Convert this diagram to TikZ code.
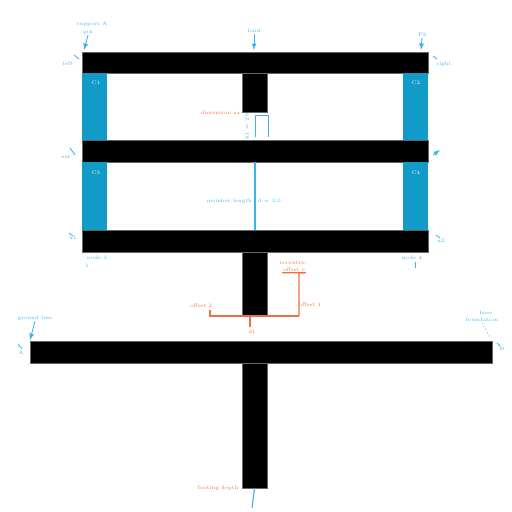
\documentclass[tikz,border=0pt]{standalone}
\usepackage{xcolor}
\definecolor{colblue}{RGB}{18,155,200}
\definecolor{lblblue}{RGB}{60,180,235}
\definecolor{lblorange}{RGB}{240,110,70}
\tikzset{
	member/.style={shape=rectangle, draw=black!60, line width=0.3pt, fill=black, inner sep=0pt},
	post/.style={shape=rectangle, fill=colblue, inner sep=0pt, text=white, anchor=center},
	tag/.style={text=lblblue, inner sep=0.5pt, font=\fontsize{3.6}{4}\selectfont},
	otag/.style={text=lblorange, inner sep=0.5pt, font=\fontsize{3.6}{4}\selectfont},
	dim/.style={draw=lblblue, line width=0.6pt},
	odim/.style={draw=lblorange, line width=0.9pt}
}
\begin{document}
\begin{tikzpicture}[x=0.025cm, y=-0.025cm]
	\useasboundingbox (0, 0) rectangle (512, 512);
	\node[member, minimum width=8.65cm, minimum height=0.525cm](B1) at (255, 62.5){};
	\node[member, minimum width=0.625cm, minimum height=0.975cm](S1) at (254.5, 92.5){};
	\node[post, minimum width=0.625cm, minimum height=1.675cm](L1) at (94.5, 106.5){};
	\node[post, minimum width=0.625cm, minimum height=1.675cm](R1) at (415, 106.5){};
	\node[member, minimum width=8.65cm, minimum height=0.55cm](B2) at (255, 151){};
	\node[post, minimum width=0.625cm, minimum height=1.7cm](L2) at (94.5, 196){};
	\node[post, minimum width=0.625cm, minimum height=1.7cm](R2) at (415, 196){};
	\node[member, minimum width=8.65cm, minimum height=0.55cm](B3) at (255, 241){};
	\node[member, minimum width=0.625cm, minimum height=1.575cm](S2) at (254.5, 283.5){};
	\node[member, minimum width=11.55cm, minimum height=0.55cm](B4) at (261, 352){};
	\node[member, minimum width=0.625cm, minimum height=3.125cm](S3) at (254.5, 425.5){};
	\node[tag, text=white] at (96, 83){C1};
	\node[tag, text=white] at (416, 83){C2};
	\node[tag, text=white] at (96, 173){C3};
	\node[tag, text=white] at (416, 173){C4};
	\node[tag](t1) at (92, 24){support A};
	\node[tag](t2) at (88, 32){pin};
	\draw[dim, -latex] (t2.south) -- (84, 50);
	\node[tag](t3) at (68, 64){left};
	\draw[dim] (74, 55) -- (79, 59);
	\node[tag](t4) at (254, 31){load};
	\draw[dim, -latex] (t4.south) -- (254, 50);
	\node[tag](t5) at (422, 35){P2};
	\draw[dim, -latex] (t5.south) -- (421, 50);
	\node[tag](t6) at (444, 64){right};
	\draw[dim] (433, 56) -- (437, 59);
	\node[tag](t7) at (66, 157){ext};
	\draw[dim] (70, 148) -- (75, 155);
	\draw[dim, -latex] (433, 155) -- (440, 150);
	\node[tag](t9) at (73, 238){x1};
	\draw[dim] (69, 233) -- (73, 236);
	\node[tag](t10) at (441, 241){x2};
	\draw[dim] (436, 235) -- (440, 238);
	\node[tag](t11) at (97, 258){node 3};
	\node[tag](t12) at (87, 266){1};
	\node[tag](t13) at (412, 258){node 4};
	\draw[dim] (415, 262) -- (415, 268);
	\node[otag](t14) at (219, 113){dimension a};
	\draw[lblorange, line width=0.8pt, dotted] (t14.east) -- (241, 114);
	\node[tag, rotate=90](t15) at (247, 126){h1 = 2.0};
	\draw[dim] (255, 137) -- (255, 115) -- (268, 115) -- (268, 137);
	\draw[dim, line width=0.8pt] (B2.south) -- (B3.north);
	\node[tag, anchor=east](t16) at (253, 201){member length};
	\node[tag, anchor=west](t17) at (257, 201){d = 3.0};
	\node[otag](t18) at (293, 263){eccentric};
	\node[otag](t19) at (294, 270){offset e};
	\draw[odim] (t19.south west) -- (t19.south east) -- (299, 273) -- (299, 316);
	\draw[odim] (210, 310) -- (210, 316) -- (299, 316);
	\draw[odim] (250, 316) -- (250, 327);
	\node[otag](t20) at (252, 332){d1};
	\node[otag](t21) at (201, 306){offset 2};
	\node[otag](t22) at (310, 305){offset 1};
	\node[tag](t23) at (35, 318){ground line};
	\draw[dim, -latex] (t23.south) -- (30, 340);
	\node[tag](t24) at (21, 353){A};
	\draw[dim] (18, 344) -- (22, 349);
	\node[tag](t25) at (486, 313){base};
	\node[tag](t26) at (482, 320){foundation};
	\draw[dim, dotted] (t26.south) -- (491, 339);
	\node[tag](t27) at (502, 349){B};
	\draw[dim] (497, 343) -- (500, 346);
	\node[otag](t28) at (218, 488){footing depth};
	\draw[dim, line width=0.8pt] (S3.south) -- (252, 508);
\end{tikzpicture}
\end{document}
